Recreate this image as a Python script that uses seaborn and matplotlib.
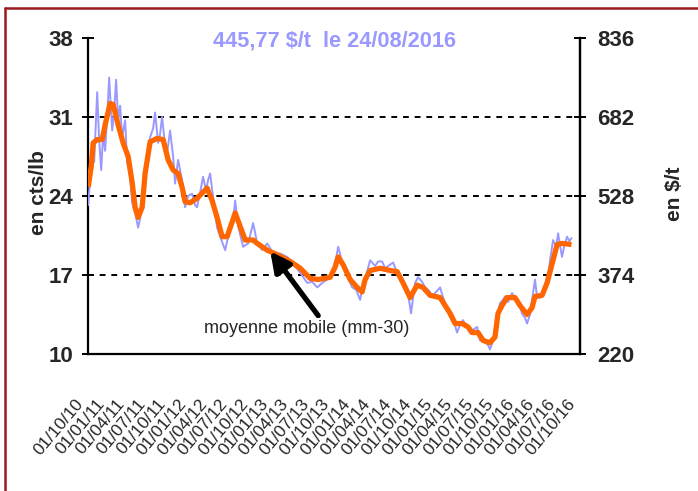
import numpy as np
import pandas as pd
import matplotlib
matplotlib.use("Agg")
import matplotlib.pyplot as plt
import matplotlib.dates as mdates
from matplotlib.transforms import ScaledTranslation
from matplotlib.lines import Line2D
import seaborn as sns

# ---------------- data ----------------
# daily price, cts/lb (decimal-year time stamps)
daily_t = [2010.750, 2010.774, 2010.799, 2010.823, 2010.860, 2010.884, 2010.909, 2010.933,
           2010.957, 2010.982, 2011.006, 2011.043, 2011.067, 2011.091, 2011.116, 2011.140,
           2011.165, 2011.201, 2011.226, 2011.262, 2011.287, 2011.323, 2011.360, 2011.384,
           2011.409, 2011.445, 2011.470, 2011.506, 2011.543, 2011.567, 2011.604, 2011.628,
           2011.652, 2011.689, 2011.713, 2011.750, 2011.787, 2011.811, 2011.848, 2011.896,
           2011.933, 2011.970, 2012.018, 2012.055, 2012.079, 2012.116, 2012.152, 2012.189,
           2012.213, 2012.238, 2012.274, 2012.323, 2012.360, 2012.421, 2012.482, 2012.518,
           2012.543, 2012.579, 2012.640, 2012.701, 2012.762, 2012.811, 2012.872, 2012.933,
           2013.006, 2013.091, 2013.177, 2013.250, 2013.335, 2013.421, 2013.482, 2013.543,
           2013.604, 2013.665, 2013.726, 2013.774, 2013.799, 2013.835, 2013.884, 2013.933,
           2013.970, 2014.018, 2014.067, 2014.104, 2014.140, 2014.189, 2014.250, 2014.287,
           2014.335, 2014.372, 2014.409, 2014.470, 2014.530, 2014.579, 2014.616, 2014.652,
           2014.689, 2014.713, 2014.738, 2014.774, 2014.823, 2014.860, 2014.909, 2014.945,
           2014.994, 2015.043, 2015.079, 2015.104, 2015.140, 2015.165, 2015.189, 2015.226,
           2015.250, 2015.287, 2015.323, 2015.360, 2015.409, 2015.457, 2015.494, 2015.530,
           2015.567, 2015.591, 2015.628, 2015.652, 2015.689, 2015.713, 2015.738, 2015.774,
           2015.811, 2015.835, 2015.872, 2015.921, 2015.957, 2015.982, 2016.018, 2016.043,
           2016.079, 2016.104, 2016.140, 2016.165, 2016.201, 2016.226, 2016.262, 2016.299,
           2016.323, 2016.360, 2016.384, 2016.421, 2016.457, 2016.482, 2016.506, 2016.530,
           2016.555, 2016.591, 2016.620, 2016.645]
daily_v = [23.2, 25.5, 27.5, 27.0, 33.2, 29.0, 26.3, 29.5,
           28.0, 31.0, 34.5, 29.8, 31.5, 34.3, 30.7, 32.0,
           29.2, 30.7, 27.0, 25.7, 23.4, 22.5, 21.2, 22.0,
           24.0, 26.3, 27.5, 29.2, 30.0, 31.4, 28.7, 29.5,
           31.0, 28.5, 27.8, 29.8, 27.5, 25.1, 27.2, 25.4,
           23.0, 24.0, 24.2, 23.2, 23.0, 24.3, 25.7, 24.5,
           25.4, 26.0, 23.9, 21.2, 20.4, 19.2, 21.2, 22.0,
           23.6, 21.3, 19.5, 19.8, 21.6, 19.8, 19.2, 19.8,
           18.9, 18.9, 18.6, 18.0, 17.2, 16.3, 16.4, 15.9,
           16.3, 16.6, 17.2, 18.5, 19.5, 18.5, 17.4, 16.5,
           15.9, 15.7, 14.8, 16.2, 17.0, 18.3, 17.8, 18.2,
           18.2, 17.6, 17.8, 18.1, 17.0, 16.6, 16.0, 15.3,
           13.6, 15.0, 16.3, 16.8, 16.4, 15.9, 15.6, 15.1,
           15.5, 15.9, 15.0, 14.5, 13.8, 13.3, 13.0, 12.5,
           11.9, 12.6, 13.0, 12.5, 11.9, 12.2, 12.4, 11.2,
           11.5, 11.0, 10.8, 10.4, 11.2, 12.2, 13.3, 14.5,
           14.8, 15.1, 14.6, 15.4, 15.0, 14.8, 14.2, 13.6,
           13.2, 12.7, 13.5, 14.8, 16.6, 15.0, 15.0, 15.4,
           16.2, 17.0, 18.3, 20.1, 19.5, 20.7, 19.6, 18.6,
           19.5, 20.4, 20.0, 20.26]

# 30-day moving average, cts/lb
mm_t = [2010.750, 2010.787, 2010.811, 2010.860, 2010.921, 2010.957, 2011.018, 2011.055,
        2011.116, 2011.177, 2011.238, 2011.287, 2011.323, 2011.360, 2011.409, 2011.445,
        2011.506, 2011.591, 2011.665, 2011.726, 2011.787, 2011.848, 2011.896, 2011.933,
        2011.994, 2012.079, 2012.201, 2012.262, 2012.323, 2012.384, 2012.445, 2012.543,
        2012.604, 2012.665, 2012.762, 2012.811, 2012.933, 2013.055, 2013.213, 2013.335,
        2013.457, 2013.555, 2013.701, 2013.762, 2013.799, 2013.860, 2013.945, 2014.030,
        2014.091, 2014.128, 2014.189, 2014.311, 2014.433, 2014.518, 2014.591, 2014.677,
        2014.762, 2014.835, 2014.921, 2015.043, 2015.165, 2015.226, 2015.311, 2015.384,
        2015.433, 2015.506, 2015.567, 2015.652, 2015.713, 2015.750, 2015.799, 2015.860,
        2015.957, 2016.018, 2016.104, 2016.165, 2016.201, 2016.287, 2016.348, 2016.409,
        2016.470, 2016.530, 2016.645]
mm_v = [24.8, 26.6, 28.7, 29.0, 29.0, 30.3, 32.2, 32.1,
        30.3, 28.7, 27.5, 25.2, 23.0, 22.1, 23.0, 26.0,
        28.8, 29.1, 29.0, 27.2, 26.3, 26.0, 24.8, 23.5,
        23.4, 23.8, 24.7, 23.6, 22.1, 20.4, 20.4, 22.5,
        21.3, 20.1, 20.1, 19.8, 19.2, 18.8, 18.2, 17.6,
        16.7, 16.6, 16.8, 17.7, 18.6, 17.9, 16.6, 15.9,
        15.5, 16.6, 17.4, 17.6, 17.4, 17.3, 16.3, 15.0,
        16.1, 15.9, 15.2, 15.0, 13.6, 12.7, 12.7, 12.4,
        11.9, 11.9, 11.2, 11.0, 11.5, 13.6, 14.3, 15.0,
        15.0, 14.3, 13.5, 14.1, 15.1, 15.2, 16.3, 18.0,
        19.7, 19.8, 19.7]

left_ticks = [10, 17, 24, 31, 38]
right_ticks = [220, 374, 528, 682, 836]
title_text = "445,77 $/t  le 24/08/2016"
annot_text = "moyenne mobile (mm-30)"
x_start, x_end = "2010-10-01", "2016-10-01"


def to_date(t):
    y = int(np.floor(t))
    a = pd.Timestamp(year=y, month=1, day=1)
    b = pd.Timestamp(year=y + 1, month=1, day=1)
    return a + (t - y) * (b - a)


daily = pd.DataFrame({"date": [to_date(t) for t in daily_t], "v": daily_v})
mm = pd.DataFrame({"date": [to_date(t) for t in mm_t], "v": mm_v})

# ---------------- figure ----------------
sns.set_theme(style="white")
plt.rcParams["font.family"] = ["Liberation Sans", "DejaVu Sans"]

W, H = 698, 491
fig = plt.figure(figsize=(W / 100, H / 100), dpi=100)
L, R, T, B = 88, 580, 38, 354
ax = fig.add_axes([L / W, 1 - B / H, (R - L) / W, (B - T) / H])

sns.lineplot(data=daily, x="date", y="v", ax=ax, color="#9999ff", lw=1.4, zorder=3)
sns.lineplot(data=mm, x="date", y="v", ax=ax, color="#ff6600", lw=3.8, zorder=4,
             solid_capstyle="butt")

ax.set_xlim(pd.Timestamp(x_start), pd.Timestamp(x_end))
ax.set_ylim(left_ticks[0], left_ticks[-1])
ax.set_yticks(left_ticks)
for v in left_ticks[1:-1]:
    ax.axhline(v, color="black", lw=1.4, ls=(0, (3, 3)), zorder=2)

xt = pd.date_range(x_start, x_end, freq="QS")
ax.set_xticks(xt)
ax.xaxis.set_major_formatter(mdates.DateFormatter("%d/%m/%y"))
ax.set_xlabel("")
ax.set_ylabel("")

for s in ["left", "right", "bottom"]:
    ax.spines[s].set_color("black")
    ax.spines[s].set_linewidth(1.6)
ax.spines["top"].set_visible(False)

ax.tick_params(axis="x", direction="out", length=4, width=1.4, color="black",
               labelsize=12.5, pad=30)
ax.tick_params(axis="y", direction="inout", length=9, width=1.4, color="black",
               labelsize=16, pad=6, left=True)
for lbl in ax.get_yticklabels():
    lbl.set_fontweight("bold")
off = ScaledTranslation(-0.07, 0, fig.dpi_scale_trans)
for lbl in ax.get_xticklabels():
    lbl.set_rotation(50)
    lbl.set_ha("right")
    lbl.set_va("center")
    lbl.set_rotation_mode("anchor")
    lbl.set_transform(lbl.get_transform() + off)

ax2 = ax.twinx()
ax2.set_ylim(right_ticks[0], right_ticks[-1])
ax2.set_yticks(right_ticks)
ax2.spines["top"].set_visible(False)
ax2.spines["right"].set_color("black")
ax2.spines["right"].set_linewidth(1.6)
ax2.spines["left"].set_visible(False)
ax2.spines["bottom"].set_visible(False)
ax2.tick_params(axis="y", direction="inout", length=9, width=1.4, color="black",
                labelsize=16, pad=8, right=True)
for lbl in ax2.get_yticklabels():
    lbl.set_fontweight("bold")

fig.text(38 / W, 1 - 193 / H, "en cts/lb", rotation=90, ha="center", va="center",
         fontsize=15, fontweight="bold")
fig.text(675 / W, 1 - 194 / H, "en $/t", rotation=90, ha="center", va="center",
         fontsize=15, fontweight="bold")
fig.text(213 / W, 1 - 41 / H, title_text, ha="left", va="center", fontsize=15.7,
         fontweight="bold", color="#9999ff")

# annotation arrow + text
ax.annotate("", xy=(to_date(2012.97), 19.1), xytext=(to_date(2013.555), 13.4),
            arrowprops=dict(arrowstyle="-|>,head_length=1.0,head_width=0.5",
                            color="black", lw=3.8, shrinkA=0, shrinkB=0), zorder=6)
ax.text(to_date(2013.41), 12.3, annot_text, ha="center", va="center", fontsize=13,
        zorder=6, bbox=dict(facecolor="white", edgecolor="none", pad=1))

# outer dark-red frame (top and left visible)
fig.add_artist(Line2D([5 / W, 5 / W], [0, 1 - 8 / H], color="#9b1c1c", lw=1.8,
                      transform=fig.transFigure))
fig.add_artist(Line2D([5 / W, 1], [1 - 8 / H, 1 - 8 / H], color="#9b1c1c", lw=1.8,
                      transform=fig.transFigure))

fig.savefig("out.png", dpi=100)
